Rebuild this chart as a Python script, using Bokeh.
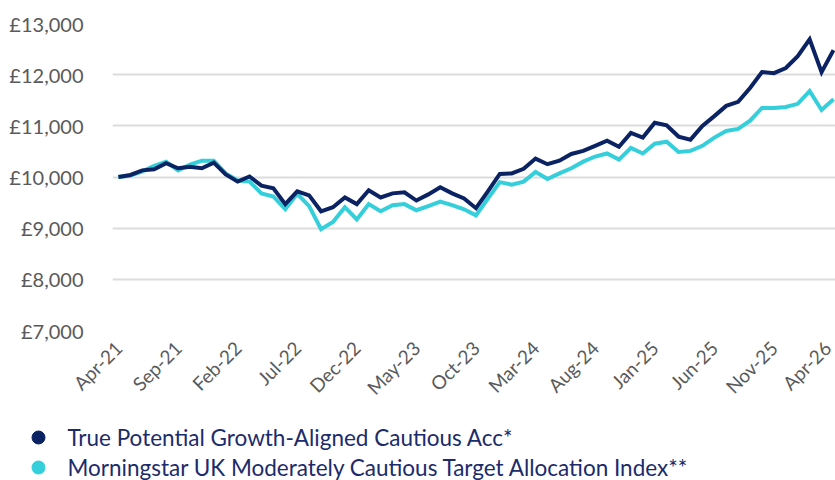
import math
from bokeh.plotting import figure
from bokeh.layouts import column
from bokeh.models import FixedTicker, Range1d, ColumnDataSource
from bokeh.core.properties import value
from bokeh.embed import file_html
from bokeh.resources import INLINE

# Monthly values, Apr-21 .. Apr-26 (61 months), growth of £10,000
fund = [10000, 10040, 10130, 10150, 10270, 10170, 10200, 10170, 10280, 10050,
        9910, 10010, 9830, 9780, 9470, 9720, 9640, 9330, 9410, 9600,
        9470, 9740, 9600, 9680, 9700, 9540, 9660, 9800, 9680, 9580,
        9390, 9720, 10060, 10070, 10160, 10360, 10250, 10320, 10450, 10510,
        10610, 10710, 10590, 10860, 10770, 11060, 11010, 10790, 10730, 11000,
        11190, 11390, 11470, 11740, 12050, 12030, 12130, 12360, 12690, 12050,
        12480]
index = [10000, 10030, 10110, 10220, 10300, 10130, 10240, 10320, 10320, 10070,
         9930, 9910, 9680, 9620, 9370, 9670, 9430, 8980, 9120, 9410,
         9170, 9470, 9330, 9450, 9470, 9350, 9430, 9520, 9450, 9370,
         9250, 9580, 9900, 9850, 9910, 10100, 9960, 10070, 10170, 10300,
         10400, 10460, 10340, 10570, 10460, 10650, 10690, 10490, 10510, 10610,
         10770, 10900, 10940, 11100, 11350, 11350, 11370, 11430, 11680, 11310,
         11520]
months = list(range(len(fund)))

x_tick_pos = [0, 5, 10, 15, 20, 25, 30, 35, 40, 45, 50, 55, 60]
x_tick_labels = ["Apr-21", "Sep-21", "Feb-22", "Jul-22", "Dec-22", "May-23", "Oct-23",
                 "Mar-24", "Aug-24", "Jan-25", "Jun-25", "Nov-25", "Apr-26"]
y_tick_pos = [7000, 8000, 9000, 10000, 11000, 12000, 13000]
y_tick_labels = ["£7,000", "£8,000", "£9,000", "£10,000", "£11,000", "£12,000", "£13,000"]

series_names = ["True Potential Growth-Aligned Cautious Acc*",
                "Morningstar UK Moderately Cautious Target Allocation Index**"]

NAVY = "#0b2263"
CYAN = "#34cfdb"
FONT = "Lato"

p = figure(width=835, height=410, output_backend="svg", toolbar_location=None,
           x_range=Range1d(-0.5, 60.17), y_range=Range1d(7000, 13000),
           min_border_left=112, min_border_right=0, min_border_top=23,
           min_border_bottom=78, frame_align=False)
p.outline_line_color = None

src = ColumnDataSource(dict(m=months, fund=fund, index=index))
p.line("m", "index", source=src, color=CYAN, line_width=4, line_join="miter")
p.line("m", "fund", source=src, color=NAVY, line_width=4, line_join="miter")

p.xaxis.ticker = FixedTicker(ticks=x_tick_pos)
p.xaxis.major_label_overrides = {t: l for t, l in zip(x_tick_pos, x_tick_labels)}
p.xaxis.major_label_orientation = math.pi / 4
p.yaxis.ticker = FixedTicker(ticks=y_tick_pos)
p.yaxis.major_label_overrides = {t: l for t, l in zip(y_tick_pos, y_tick_labels)}
for ax in (p.xaxis, p.yaxis):
    ax.axis_line_color = None
    ax.major_tick_line_color = None
    ax.minor_tick_line_color = None
    ax.major_label_text_font = FONT
    ax.major_label_text_color = "#5a5a5a"
p.xaxis.major_label_text_font_size = "19px"
p.yaxis.major_label_text_font_size = "20px"
p.xaxis.major_label_standoff = 8
p.yaxis.major_label_standoff = 23

p.xgrid.grid_line_color = None
p.ygrid.grid_line_color = "#dcdcdc"
p.ygrid.grid_line_width = 2

# legend as a separate strip below the chart
leg_h = 70
leg = figure(width=835, height=leg_h, output_backend="svg", toolbar_location=None,
             x_range=Range1d(0, 835), y_range=Range1d(leg_h, 0),
             x_axis_location=None, y_axis_location=None,
             min_border=0, min_border_left=0, min_border_right=0,
             min_border_top=0, min_border_bottom=0, frame_align=False)
leg.outline_line_color = None
leg.xgrid.visible = False
leg.ygrid.visible = False
leg_src = ColumnDataSource(dict(
    label=series_names, color=[NAVY, CYAN],
    dot_x=[38, 38], text_x=[67, 67], row_y=[27, 57]))
leg.scatter("dot_x", "row_y", source=leg_src, marker="circle", size=13,
            color="color", line_width=1)
leg.text("text_x", "row_y", text="label", source=leg_src,
         text_font=value(FONT), text_font_size="22.5px", text_color="#1b2b6b",
         text_baseline="middle", text_align="left")

layout = column(p, leg, spacing=0)
open("out.html", "w").write(file_html(layout, INLINE))
